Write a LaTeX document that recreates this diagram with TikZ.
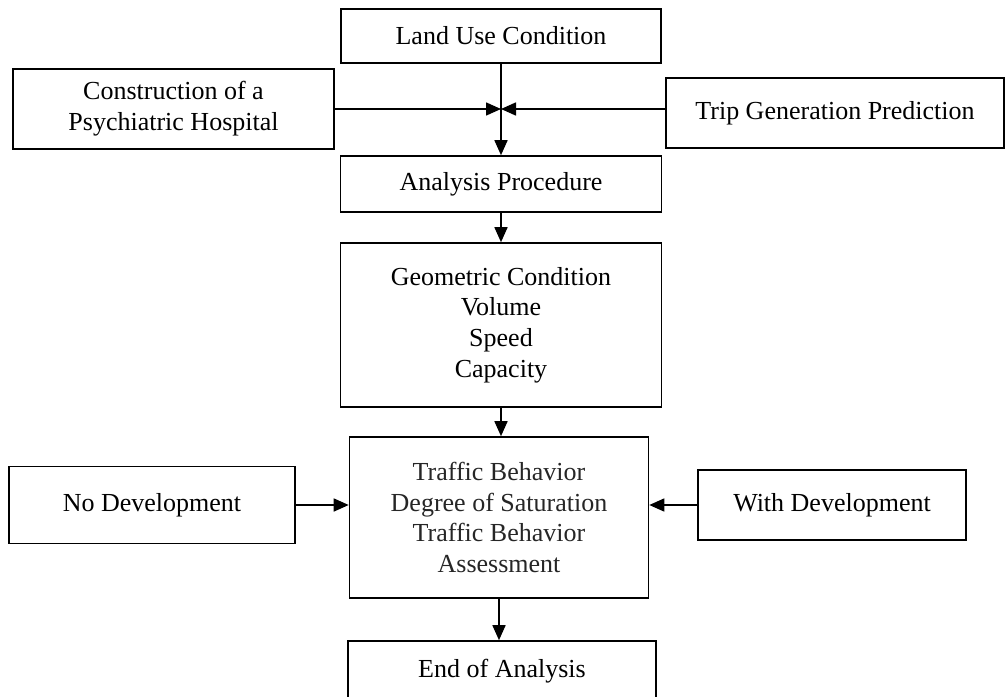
\documentclass[tikz,border=0pt]{standalone}
\usepackage{fontspec}
\setmainfont{Liberation Serif}
\usetikzlibrary{arrows.meta}

\begin{document}
\begin{tikzpicture}[x=1pt,y=-1pt,line width=1.6pt,>={Triangle[length=15pt,width=13pt]},
  box/.style={draw,rectangle,align=center,inner sep=0pt,font=\fontsize{26}{30.7}\selectfont}]
\useasboundingbox (0,0) rectangle (1006,696);

\node[box,minimum width=320,minimum height=54] (land) at (501,36) {Land Use Condition};
\node[box,minimum width=321,minimum height=80] (hosp) at (173.5,109) {Construction of a\\Psychiatric Hospital};
\node[box,minimum width=338,minimum height=70] (trip) at (835,113) {Trip Generation Prediction};
\node[box,minimum width=321,minimum height=56] (proc) at (501,184) {Analysis Procedure};
\node[box,minimum width=321,minimum height=164] (geom) at (501,325) {Geometric Condition\\Volume\\Speed\\Capacity};
\node[box,minimum width=299,minimum height=161,text=black!85] (behav) at (499,517.5) {Traffic Behavior\\Degree of Saturation\\Traffic Behavior\\Assessment};
\node[box,minimum width=286,minimum height=77] (nodev) at (152,505) {No Development};
\node[box,minimum width=268,minimum height=70] (withdev) at (832,505) {With Development};
\node[box,minimum width=308,minimum height=60] (endan) at (502,671) {End of Analysis};

\coordinate (meet) at (land.south |- hosp.east);

\draw[->] (land.south) -- (land.south |- proc.north);
\draw[->] (hosp.east) -- (meet);
\draw[->] (trip.west |- meet) -- (meet);
\draw[->] (proc.south) -- (proc.south |- geom.north);
\draw[->] (geom.south) -- (geom.south |- behav.north);
\draw[->] (nodev.east) -- (nodev.east -| behav.west);
\draw[->] (withdev.west) -- (withdev.west -| behav.east);
\draw[->] (behav.south) -- (behav.south |- endan.north);
\end{tikzpicture}
\end{document}
